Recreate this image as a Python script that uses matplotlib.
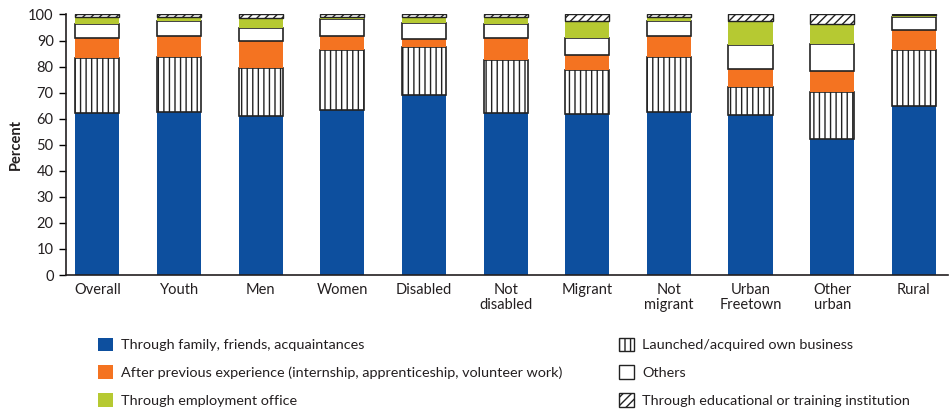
import numpy as np
import matplotlib
matplotlib.use("Agg")
import matplotlib.pyplot as plt
from matplotlib.patches import Patch

plt.rcParams["font.family"] = ["Lato", "DejaVu Sans"]
plt.rcParams["hatch.linewidth"] = 1.0

# Data (percent)
groups = ["Overall", "Youth", "Men", "Women", "Disabled", "Not\ndisabled",
          "Migrant", "Not\nmigrant", "Urban\nFreetown", "Other\nurban", "Rural"]
family = [62.2, 62.6, 60.9, 63.5, 69.0, 62.2, 61.8, 62.6, 61.3, 52.3, 64.7]
business = [21.1, 21.1, 18.4, 22.7, 18.6, 20.5, 16.7, 21.1, 10.7, 17.8, 21.8]
previous = [7.6, 8.0, 10.4, 5.5, 2.8, 8.1, 5.8, 8.0, 7.1, 8.1, 7.7]
others = [5.5, 5.7, 5.2, 6.4, 6.4, 5.6, 6.7, 5.7, 9.1, 10.5, 4.8]
office = [2.7, 1.7, 3.8, 1.0, 2.2, 2.7, 6.4, 1.6, 9.2, 7.8, 0.6]
education = [0.9, 0.9, 1.3, 0.9, 1.0, 0.9, 2.6, 1.0, 2.6, 3.5, 0.4]

blue = "#0D4F9E"
orange = "#F47321"
green = "#B6C932"

fig = plt.figure(figsize=(9.5, 4.13), dpi=100)
ax = fig.add_axes([0.069, 0.334, 0.929, 0.631])

x = np.arange(len(groups))
w = 0.54
bottom = np.zeros(len(groups))

# stack the segments bottom to top
ax.bar(x, family, w, bottom=bottom, color=blue, linewidth=0)
bottom += family
ax.bar(x, business, w, bottom=bottom, color="white", edgecolor="#222222",
       hatch="|||", linewidth=1.2)
bottom += business
ax.bar(x, previous, w, bottom=bottom, color=orange, linewidth=0)
bottom += previous
ax.bar(x, others, w, bottom=bottom, color="white", edgecolor="#222222",
       linewidth=1.2)
bottom += others
ax.bar(x, office, w, bottom=bottom, color=green, linewidth=0)
bottom += office
ax.bar(x, education, w, bottom=bottom, color="white", edgecolor="#222222",
       hatch="////", linewidth=1.0)

ax.set_xlim(-0.39, 10.42)
ax.set_ylim(0, 100)
ax.set_yticks(range(0, 101, 10))
ax.set_xticks(x)
ax.set_xticklabels(groups, fontsize=10.5, color="#231F20", linespacing=1.05)
ax.tick_params(axis="x", length=0, pad=6)
ax.tick_params(axis="y", length=5, width=1, labelsize=10.5, labelcolor="#231F20")
ax.set_ylabel("Percent", fontsize=10.5, fontweight="bold", color="#231F20", labelpad=4)
for s in ["top", "right"]:
    ax.spines[s].set_visible(False)
for s in ["left", "bottom"]:
    ax.spines[s].set_color("#231F20")
    ax.spines[s].set_linewidth(1.2)

left_items = [
    Patch(facecolor=blue, label="Through family, friends, acquaintances"),
    Patch(facecolor=orange, label="After previous experience (internship, apprenticeship, volunteer work)"),
    Patch(facecolor=green, label="Through employment office"),
]
right_items = [
    Patch(facecolor="white", edgecolor="#222222", hatch="|||", label="Launched/acquired own business"),
    Patch(facecolor="white", edgecolor="#222222", label="Others"),
    Patch(facecolor="white", edgecolor="#222222", hatch="////", label="Through educational or training institution"),
]
leg_kw = dict(frameon=False, fontsize=10.4, handlelength=1.05, handleheight=1.05,
              labelspacing=0.98, handletextpad=0.55, labelcolor="#231F20")
fig.legend(handles=left_items, loc="upper left", bbox_to_anchor=(0.089, 0.214), **leg_kw)
fig.legend(handles=right_items, loc="upper left", bbox_to_anchor=(0.638, 0.214), **leg_kw)

fig.savefig("out.png", dpi=100)
